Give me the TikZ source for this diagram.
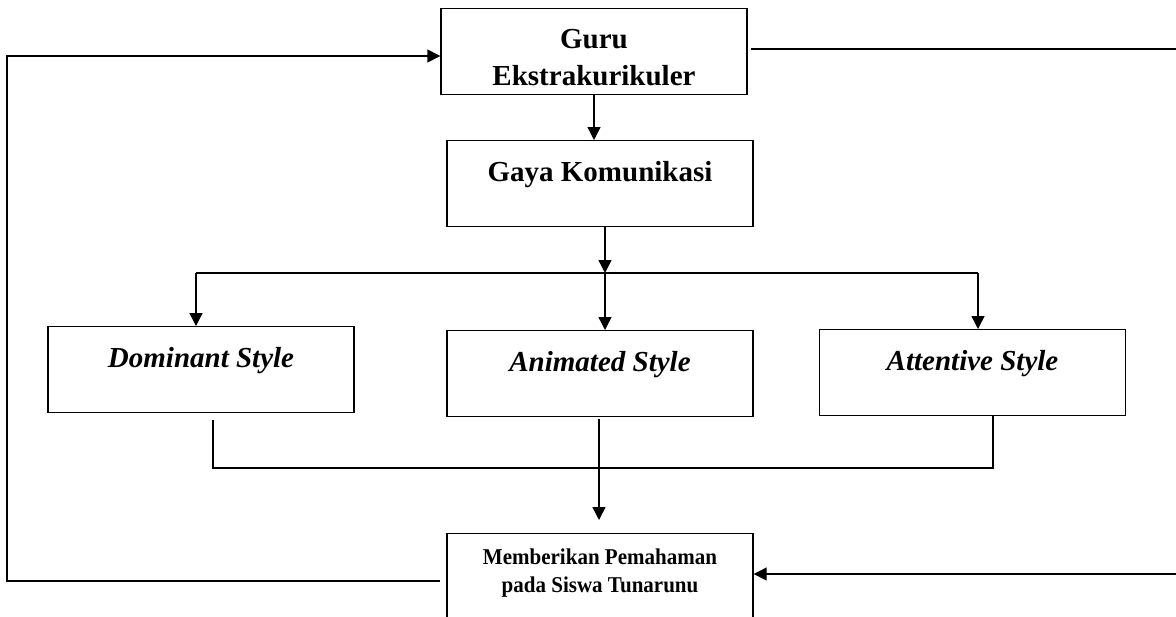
\documentclass[tikz,border=0pt]{standalone}
\usepackage{fontspec}
\setmainfont{Liberation Serif}
\usetikzlibrary{arrows.meta}
\newcommand\judul{\fontsize{14.5}{18.5}\selectfont\bfseries}
\newcommand\kecil{\fontsize{11.3}{14}\selectfont\bfseries}
\tikzset{kotak/.style={draw, inner sep=0pt, minimum width=153pt, anchor=north}}
\tikzset{gayabox/.style={kotak, text height=20.5pt, text depth=22.5pt, font=\judul}}
\tikzset{panah/.style={-{Triangle[length=6.5pt, width=6.5pt]}}}

\begin{document}
\begin{tikzpicture}[x=0.5pt, y=-0.5pt, line width=0.7pt]
    \useasboundingbox (0,0) rectangle (1176,616);
    \clip (0,0) rectangle (1176,616);
    \node[kotak, text height=38.25pt, text depth=4.75pt, font=\judul] (guru) at (594,8) {\begin{tabular}[b]{@{}c@{}}Guru\\Ekstrakurikuler\end{tabular}};
    \node[gayabox] (gaya) at (600,140) {Gaya Komunikasi};
    \node[gayabox, font=\judul\itshape] (dominant) at (201,326) {Dominant Style};
    \node[gayabox, font=\judul\itshape] (animated) at (600,330) {Animated Style};
    \node[gayabox, font=\judul\itshape] (attentive) at (972.5,329) {Attentive Style};
    \node[kotak, text height=29.5pt, text depth=16.5pt, font=\kecil] (memberi) at (600,533) {\scalebox{0.93}[1]{\begin{tabular}[b]{@{}c@{}}Memberikan Pemahaman\\pada Siswa Tunarunu\end{tabular}}};
    \coordinate (pisah) at (605,273);
    \coordinate (kiri) at (196,273);
    \coordinate (kanan) at (978,273);
    \coordinate (bawahkiri) at (213,468);
    \coordinate (bawahkanan) at (993,468);
    \coordinate (tuju) at (599,520);
    \coordinate (sudutbawah) at (7,581);
    \coordinate (sudutatas) at (7,56);
    \coordinate (kananatas) at (1190,49);
    \coordinate (kananbawah) at (1190,574);
    \draw[panah] (guru.south) -- (guru.south |- gaya.north);
    \draw[panah] (pisah |- gaya.south) -- (pisah);
    \draw[panah] (pisah) -- (pisah |- animated.north);
    \draw (kiri) -- (kanan);
    \draw[panah] (kiri) -- (kiri |- dominant.north);
    \draw[panah] (kanan) -- (kanan |- attentive.north);
    \draw ([yshift=-3.5pt]bawahkiri |- dominant.south) -- (bawahkiri) -- (bawahkanan) -- (bawahkanan |- attentive.south);
    \draw[panah] ([yshift=-1pt]tuju |- animated.south) -- (tuju);
    \draw[panah] ([xshift=-3pt]memberi.west |- sudutbawah) -- (sudutbawah) -- (sudutatas) -- (sudutatas -| guru.west);
    \draw[panah] ([xshift=1.5pt]guru.east |- kananatas) -- (kananatas) -- (kananbawah) -- (kananbawah -| memberi.east);
\end{tikzpicture}
\end{document}
